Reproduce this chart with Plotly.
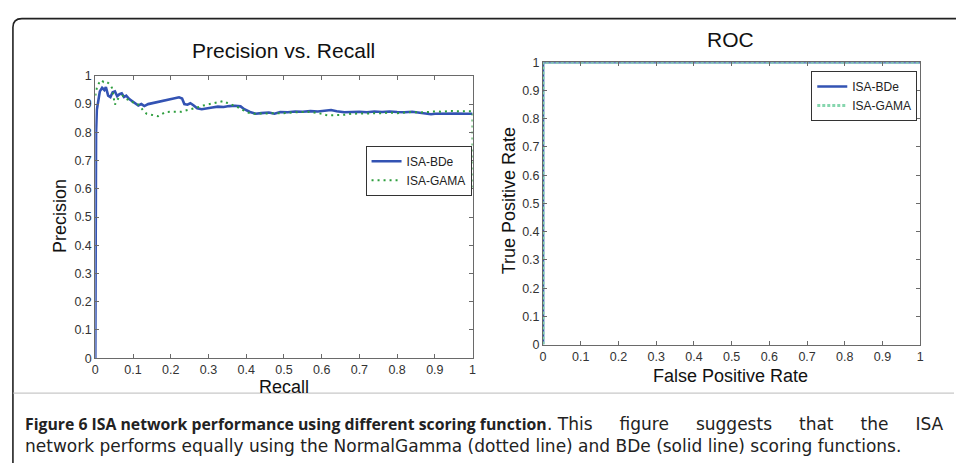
import plotly.graph_objects as go

W, H = 958, 468

# ---------------- data ----------------
bde_recall = [0, 0, 0.002, 0.004, 0.008, 0.012, 0.018, 0.024, 0.028, 0.034, 0.040, 0.046, 0.052, 0.058,
              0.064, 0.070, 0.076, 0.082, 0.090, 0.098, 0.106, 0.114, 0.122, 0.130, 0.140, 0.150, 0.160,
              0.170, 0.180, 0.190, 0.200, 0.210, 0.222, 0.230, 0.236, 0.244, 0.252, 0.260, 0.270, 0.282,
              0.295, 0.310, 0.325, 0.340, 0.355, 0.370, 0.385, 0.395, 0.410, 0.425, 0.440, 0.460, 0.475,
              0.490, 0.510, 0.530, 0.550, 0.570, 0.590, 0.610, 0.625, 0.640, 0.660, 0.680, 0.700, 0.720,
              0.740, 0.760, 0.780, 0.800, 0.820, 0.840, 0.860, 0.875, 0.890, 0.900, 0.920, 0.940, 0.960,
              0.980, 1.000]
bde_precision = [0, 0.70, 0.80, 0.88, 0.92, 0.945, 0.958, 0.950, 0.960, 0.930, 0.925, 0.942, 0.945, 0.928,
                 0.935, 0.938, 0.925, 0.930, 0.918, 0.910, 0.900, 0.895, 0.900, 0.893, 0.900, 0.903, 0.906,
                 0.909, 0.912, 0.915, 0.918, 0.920, 0.924, 0.920, 0.900, 0.898, 0.903, 0.896, 0.885, 0.882,
                 0.886, 0.888, 0.891, 0.890, 0.893, 0.894, 0.892, 0.882, 0.872, 0.866, 0.868, 0.870, 0.866,
                 0.872, 0.871, 0.874, 0.873, 0.875, 0.874, 0.876, 0.879, 0.875, 0.871, 0.872, 0.873, 0.871,
                 0.874, 0.872, 0.874, 0.872, 0.871, 0.873, 0.870, 0.868, 0.864, 0.866, 0.867, 0.866, 0.867,
                 0.866, 0.866]

gama_recall = [0, 0.004, 0.010, 0.016, 0.022, 0.028, 0.034, 0.040, 0.044, 0.048, 0.052, 0.058, 0.064, 0.072,
               0.080, 0.088, 0.096, 0.104, 0.112, 0.120, 0.128, 0.136, 0.146, 0.156, 0.166, 0.176, 0.186,
               0.200, 0.214, 0.228, 0.242, 0.256, 0.270, 0.286, 0.300, 0.316, 0.330, 0.340, 0.350, 0.362,
               0.376, 0.390, 0.404, 0.420, 0.440, 0.460, 0.480, 0.500, 0.520, 0.540, 0.560, 0.580, 0.600,
               0.615, 0.640, 0.660, 0.680, 0.700, 0.720, 0.740, 0.760, 0.780, 0.800, 0.820, 0.840, 0.860,
               0.880, 0.900, 0.920, 0.940, 0.960, 0.980, 1.000, 1.000]
gama_precision = [0.93, 0.958, 0.975, 0.985, 0.978, 0.980, 0.975, 0.968, 0.958, 0.920, 0.898, 0.915, 0.925,
                  0.930, 0.920, 0.915, 0.908, 0.905, 0.900, 0.890, 0.875, 0.866, 0.862, 0.860, 0.857, 0.866,
                  0.872, 0.873, 0.874, 0.873, 0.878, 0.882, 0.888, 0.895, 0.899, 0.902, 0.907, 0.911, 0.904,
                  0.898, 0.890, 0.880, 0.870, 0.866, 0.866, 0.868, 0.866, 0.868, 0.870, 0.872, 0.873, 0.870,
                  0.866, 0.860, 0.860, 0.862, 0.866, 0.866, 0.868, 0.866, 0.868, 0.870, 0.868, 0.870, 0.872,
                  0.870, 0.872, 0.874, 0.873, 0.876, 0.875, 0.874, 0.875, 0.600]

roc_fpr_bde = [0, 0, 1]
roc_tpr_bde = [0, 1, 1]
roc_fpr_gama = [0, 0, 1]
roc_tpr_gama = [0, 1, 1]

tick_vals = [0, 0.1, 0.2, 0.3, 0.4, 0.5, 0.6, 0.7, 0.8, 0.9, 1]
tick_text = ["0", "0.1", "0.2", "0.3", "0.4", "0.5", "0.6", "0.7", "0.8", "0.9", "1"]

series_names = ["ISA-BDe", "ISA-GAMA"]

# ---------------- styling ----------------
BLUE = "#3353b3"
GREEN = "#2e9e3e"
ROC_GREEN = "#86d6ae"
FONT = "Liberation Sans, Arial, sans-serif"
CAP_BOLD = "Open Sans, Noto Sans, sans-serif"
CAP_REG = "DejaVu Sans, sans-serif"


def px_x(p):
    return p / W


def px_y(p):
    return 1 - p / H


fig = go.Figure()

fig.add_trace(go.Scatter(x=bde_recall, y=bde_precision, mode="lines", name=series_names[0],
                         line=dict(color=BLUE, width=2.6), xaxis="x", yaxis="y", legend="legend"))
fig.add_trace(go.Scatter(x=gama_recall, y=gama_precision, mode="lines", name=series_names[1],
                         line=dict(color=GREEN, width=2, dash="2px,4px"), xaxis="x", yaxis="y",
                         legend="legend"))
fig.add_trace(go.Scatter(x=roc_fpr_bde, y=roc_tpr_bde, mode="lines", name=series_names[0],
                         line=dict(color=BLUE, width=2.6), xaxis="x2", yaxis="y2", legend="legend2"))
fig.add_trace(go.Scatter(x=roc_fpr_gama, y=roc_tpr_gama, mode="lines", name=series_names[1],
                         line=dict(color=ROC_GREEN, width=3, dash="3px,2px"), xaxis="x2", yaxis="y2",
                         legend="legend2"))

axis_common = dict(range=[0, 1], tickmode="array", tickvals=tick_vals, ticktext=tick_text,
                   showgrid=False, zeroline=False, showline=True, linecolor="#6a6a6a", linewidth=1,
                   mirror="ticks", ticks="inside", ticklen=4, tickcolor="#6a6a6a",
                   tickfont=dict(family=FONT, size=12.5, color="#333333"), fixedrange=True)

fig.update_layout(
    width=W, height=H,
    margin=dict(l=0, r=0, t=0, b=0),
    paper_bgcolor="white", plot_bgcolor="white",
    xaxis=dict(domain=[px_x(93), px_x(473)], anchor="y", **axis_common),
    yaxis=dict(domain=[px_y(362), px_y(71)], anchor="x", **axis_common),
    xaxis2=dict(domain=[px_x(544), px_x(924)], anchor="y2", **axis_common),
    yaxis2=dict(domain=[px_y(348), px_y(57)], anchor="x2", **axis_common),
    legend=dict(x=px_x(472), y=px_y(143), xanchor="right", yanchor="top",
                bordercolor="#333333", borderwidth=1, bgcolor="white",
                font=dict(family=FONT, size=12, color="#222222"), tracegroupgap=0,
                itemwidth=30),
    legend2=dict(x=px_x(921), y=px_y(66), xanchor="right", yanchor="top",
                 bordercolor="#333333", borderwidth=1, bgcolor="white",
                 font=dict(family=FONT, size=12, color="#222222"), tracegroupgap=0,
                 itemwidth=30),
    showlegend=True,
)

ann = []
ann.append(dict(text="Precision vs. Recall", x=px_x(283), y=px_y(45), xref="paper", yref="paper",
                showarrow=False, xanchor="center", yanchor="middle",
                font=dict(family=FONT, size=21, color="#111111")))
ann.append(dict(text="ROC", x=px_x(733), y=px_y(33), xref="paper", yref="paper",
                showarrow=False, xanchor="center", yanchor="middle",
                font=dict(family=FONT, size=21, color="#111111")))
ann.append(dict(text="Recall", x=px_x(283), y=px_y(392), xref="paper", yref="paper",
                showarrow=False, xanchor="center", yanchor="middle",
                font=dict(family=FONT, size=18, color="#111111")))
ann.append(dict(text="False Positive Rate", x=px_x(733), y=px_y(380), xref="paper", yref="paper",
                showarrow=False, xanchor="center", yanchor="middle",
                font=dict(family=FONT, size=18, color="#111111")))
ann.append(dict(text="Precision", x=px_x(57), y=px_y(216), xref="paper", yref="paper",
                showarrow=False, xanchor="center", yanchor="middle", textangle=-90,
                font=dict(family=FONT, size=18, color="#111111")))
ann.append(dict(text="True Positive Rate", x=px_x(510), y=px_y(200), xref="paper", yref="paper",
                showarrow=False, xanchor="center", yanchor="middle", textangle=-90,
                font=dict(family=FONT, size=18, color="#111111")))
# caption (first line is justified in the reference: widen its spaces)
cap_y1, cap_y2 = 430, 453
WIDE = "\u00a0" * 5
ann.append(dict(text="<b>Figure 6 ISA network performance using different scoring function</b>",
                x=px_x(20), y=px_y(cap_y1), xref="paper", yref="paper", showarrow=False,
                xanchor="left", yanchor="middle", font=dict(family=CAP_BOLD, size=15.8, color="#222222")))
ann.append(dict(text=".\u00a0This" + WIDE + WIDE.join(["figure", "suggests", "that", "the", "ISA"]),
                x=px_x(950), y=px_y(cap_y1), xref="paper", yref="paper", showarrow=False,
                xanchor="right", yanchor="middle", font=dict(family=CAP_REG, size=17, color="#222222")))
ann.append(dict(text="network performs equally using the NormalGamma (dotted line) and BDe (solid line) scoring functions.",
                x=px_x(20), y=px_y(cap_y2), xref="paper", yref="paper", showarrow=False,
                xanchor="left", yanchor="middle", font=dict(family=CAP_REG, size=17, color="#222222")))
fig.update_layout(annotations=ann)

# frame around the figure (rounded top-left corner) and separator line
frame_path = (f"M {px_x(10)},{px_y(470)} L {px_x(10)},{px_y(21)} "
              f"Q {px_x(10)},{px_y(12)} {px_x(19)},{px_y(12)} L {px_x(960)},{px_y(12)}")
fig.add_shape(type="path", path=frame_path, xref="paper", yref="paper",
              line=dict(color="#222222", width=1.6))
fig.add_shape(type="line", x0=px_x(10), x1=px_x(958), y0=px_y(398), y1=px_y(398),
              xref="paper", yref="paper", line=dict(color="#bbbbbb", width=1))

fig.write_html("out.html", config={"displayModeBar": False},
               post_script="document.body.style.margin='0px';document.body.style.overflow='hidden';")
